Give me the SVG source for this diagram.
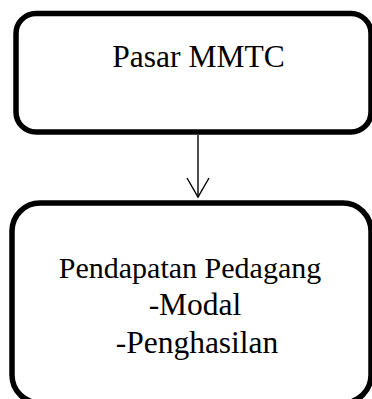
<svg xmlns="http://www.w3.org/2000/svg" width="372" height="399" viewBox="0 0 372 399">
<style>
.box{fill:#fff;stroke:#000;stroke-width:5.5}
.lbl{font-family:"Liberation Serif","Times New Roman",serif;font-size:30px;fill:#000;text-anchor:middle}
.big{font-size:31.5px}
.conn{fill:none;stroke:#000;stroke-width:1.4}
</style>
<rect width="372" height="399" fill="#fff"/>
<g id="node-pasar">
<rect class="box" x="16" y="13.5" width="355" height="118.5" rx="20"/>
<text class="lbl big" x="198.5" y="66.5">Pasar MMTC</text>
</g>
<g id="node-pendapatan">
<rect class="box" x="12" y="203" width="359" height="200" rx="28"/>
<text class="lbl" x="190" y="277.5">Pendapatan Pedagang</text>
<text class="lbl big" x="195" y="315">-Modal</text>
<text class="lbl big" x="197" y="352.5">-Penghasilan</text>
</g>
<g id="connectors">
<line class="conn" x1="198" y1="135" x2="198" y2="197"/>
<polyline class="conn" points="187,178 198,197 209,178"/>
</g>
</svg>
